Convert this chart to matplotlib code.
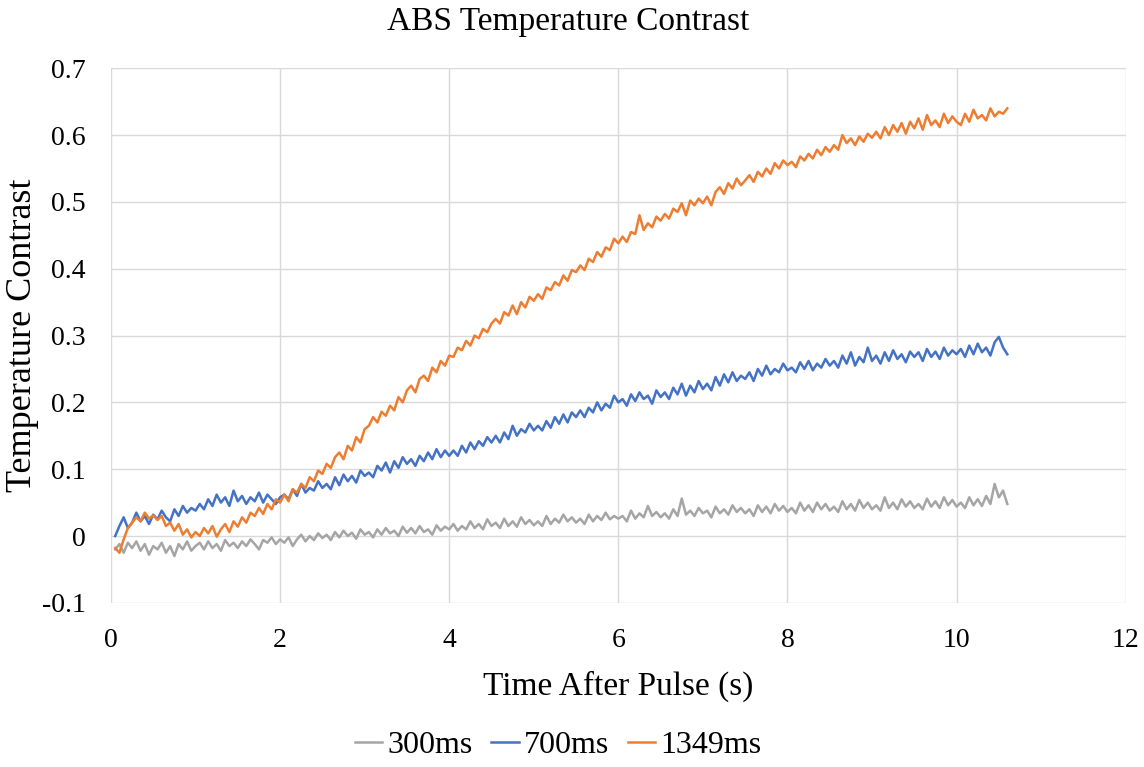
import numpy as np
import matplotlib
matplotlib.use("Agg")
import matplotlib.pyplot as plt

plt.rcParams['font.family'] = ['Liberation Serif', 'DejaVu Serif']

# sample times (s): 0.05 s steps from 0.05 to 10.6
t_start, t_step, n_pts = 0.05, 0.05, 212

series_labels = ['300ms', '700ms', '1349ms']
series_colors = ['#a5a5a5', '#4472c4', '#ed7d31']

c_300 = [
    -0.020, -0.012, -0.025, -0.010, -0.018, -0.008, -0.022, -0.012, -0.028, -0.015,
    -0.020, -0.010, -0.025, -0.015, -0.030, -0.012, -0.020, -0.008, -0.022, -0.015,
    -0.010, -0.020, -0.008, -0.018, -0.012, -0.022, -0.006, -0.015, -0.010, -0.018,
    -0.008, -0.015, -0.005, -0.012, -0.020, -0.006, -0.010, -0.002, -0.012, -0.005,
    -0.010, -0.002, -0.015, -0.005, 0.002, -0.008, 0.000, -0.006, 0.004, -0.003,
    0.002, -0.006, 0.006, -0.002, 0.008, 0.000, 0.005, -0.004, 0.010, 0.002,
    0.006, -0.002, 0.010, 0.002, 0.012, 0.004, 0.008, 0.000, 0.014, 0.005,
    0.012, 0.004, 0.015, 0.006, 0.010, 0.002, 0.016, 0.008, 0.014, 0.010,
    0.018, 0.008, 0.015, 0.010, 0.022, 0.012, 0.018, 0.010, 0.025, 0.015,
    0.020, 0.012, 0.026, 0.015, 0.022, 0.014, 0.028, 0.018, 0.024, 0.016,
    0.022, 0.015, 0.030, 0.018, 0.026, 0.020, 0.032, 0.022, 0.028, 0.020,
    0.026, 0.018, 0.032, 0.022, 0.030, 0.024, 0.035, 0.025, 0.030, 0.026,
    0.030, 0.022, 0.038, 0.026, 0.034, 0.028, 0.045, 0.030, 0.036, 0.028,
    0.034, 0.026, 0.040, 0.030, 0.056, 0.032, 0.038, 0.030, 0.042, 0.034,
    0.038, 0.028, 0.044, 0.034, 0.040, 0.032, 0.046, 0.036, 0.042, 0.034,
    0.040, 0.030, 0.046, 0.036, 0.044, 0.034, 0.048, 0.038, 0.045, 0.036,
    0.042, 0.034, 0.050, 0.038, 0.046, 0.036, 0.050, 0.040, 0.048, 0.038,
    0.044, 0.036, 0.052, 0.040, 0.048, 0.038, 0.054, 0.042, 0.050, 0.040,
    0.046, 0.038, 0.058, 0.042, 0.050, 0.040, 0.055, 0.044, 0.052, 0.042,
    0.048, 0.040, 0.056, 0.044, 0.052, 0.042, 0.058, 0.046, 0.054, 0.044,
    0.050, 0.042, 0.058, 0.046, 0.055, 0.045, 0.060, 0.048, 0.078, 0.058,
    0.068, 0.048,
]

c_700 = [
    0.000, 0.015, 0.028, 0.012, 0.020, 0.035, 0.022, 0.030, 0.018, 0.032,
    0.025, 0.038, 0.028, 0.022, 0.040, 0.030, 0.045, 0.035, 0.042, 0.038,
    0.048, 0.040, 0.055, 0.045, 0.062, 0.050, 0.058, 0.045, 0.068, 0.052,
    0.060, 0.048, 0.058, 0.052, 0.065, 0.050, 0.062, 0.055, 0.048, 0.058,
    0.062, 0.055, 0.070, 0.060, 0.078, 0.065, 0.072, 0.068, 0.082, 0.072,
    0.078, 0.070, 0.088, 0.076, 0.092, 0.082, 0.090, 0.080, 0.098, 0.090,
    0.095, 0.088, 0.105, 0.098, 0.110, 0.095, 0.112, 0.102, 0.118, 0.108,
    0.115, 0.105, 0.120, 0.112, 0.125, 0.115, 0.130, 0.118, 0.128, 0.120,
    0.128, 0.120, 0.135, 0.125, 0.140, 0.130, 0.142, 0.135, 0.148, 0.140,
    0.150, 0.140, 0.155, 0.145, 0.165, 0.150, 0.160, 0.155, 0.168, 0.158,
    0.165, 0.158, 0.172, 0.162, 0.178, 0.168, 0.182, 0.170, 0.185, 0.178,
    0.188, 0.178, 0.192, 0.185, 0.200, 0.188, 0.198, 0.192, 0.210, 0.200,
    0.205, 0.195, 0.212, 0.202, 0.215, 0.205, 0.210, 0.198, 0.218, 0.208,
    0.215, 0.205, 0.222, 0.212, 0.228, 0.210, 0.225, 0.215, 0.232, 0.220,
    0.228, 0.218, 0.238, 0.225, 0.242, 0.230, 0.245, 0.232, 0.240, 0.235,
    0.245, 0.232, 0.250, 0.240, 0.255, 0.242, 0.250, 0.245, 0.258, 0.248,
    0.252, 0.245, 0.260, 0.250, 0.262, 0.248, 0.258, 0.252, 0.265, 0.255,
    0.262, 0.252, 0.270, 0.258, 0.275, 0.255, 0.268, 0.260, 0.282, 0.262,
    0.270, 0.258, 0.275, 0.262, 0.278, 0.265, 0.272, 0.260, 0.276, 0.268,
    0.275, 0.262, 0.280, 0.268, 0.276, 0.265, 0.282, 0.270, 0.278, 0.272,
    0.280, 0.268, 0.285, 0.272, 0.288, 0.275, 0.282, 0.270, 0.290, 0.298,
    0.282, 0.272,
]

c_1349 = [
    -0.018, -0.025, -0.005, 0.012, 0.020, 0.028, 0.022, 0.035, 0.026, 0.031,
    0.024, 0.030, 0.015, 0.020, 0.008, 0.018, 0.002, 0.010, -0.002, 0.006,
    0.000, 0.012, 0.004, 0.015, -0.001, 0.010, 0.018, 0.006, 0.022, 0.014,
    0.028, 0.020, 0.035, 0.030, 0.042, 0.033, 0.048, 0.040, 0.055, 0.050,
    0.062, 0.052, 0.070, 0.065, 0.078, 0.072, 0.088, 0.082, 0.098, 0.093,
    0.108, 0.102, 0.118, 0.125, 0.115, 0.135, 0.128, 0.148, 0.140, 0.160,
    0.165, 0.178, 0.170, 0.186, 0.180, 0.195, 0.188, 0.208, 0.200, 0.218,
    0.225, 0.215, 0.235, 0.240, 0.232, 0.252, 0.245, 0.262, 0.255, 0.270,
    0.268, 0.282, 0.278, 0.292, 0.285, 0.300, 0.296, 0.310, 0.305, 0.318,
    0.325, 0.318, 0.335, 0.330, 0.345, 0.332, 0.350, 0.342, 0.358, 0.352,
    0.362, 0.355, 0.372, 0.368, 0.380, 0.375, 0.390, 0.382, 0.398, 0.395,
    0.405, 0.398, 0.415, 0.410, 0.425, 0.418, 0.432, 0.428, 0.445, 0.438,
    0.448, 0.440, 0.455, 0.452, 0.480, 0.458, 0.468, 0.462, 0.478, 0.472,
    0.482, 0.475, 0.490, 0.485, 0.498, 0.480, 0.502, 0.495, 0.505, 0.498,
    0.508, 0.495, 0.515, 0.522, 0.512, 0.528, 0.520, 0.535, 0.525, 0.532,
    0.540, 0.530, 0.545, 0.538, 0.550, 0.542, 0.558, 0.550, 0.562, 0.555,
    0.560, 0.552, 0.568, 0.562, 0.572, 0.565, 0.578, 0.570, 0.582, 0.575,
    0.585, 0.578, 0.600, 0.588, 0.595, 0.585, 0.598, 0.590, 0.602, 0.596,
    0.605, 0.595, 0.612, 0.600, 0.615, 0.605, 0.618, 0.602, 0.620, 0.610,
    0.625, 0.608, 0.630, 0.615, 0.622, 0.612, 0.632, 0.618, 0.628, 0.620,
    0.615, 0.632, 0.620, 0.638, 0.625, 0.630, 0.622, 0.640, 0.628, 0.635,
    0.632, 0.640,
]

t = t_start + t_step * np.arange(n_pts)

fig = plt.figure(figsize=(11.44, 7.67), dpi=100)
ax = fig.add_axes([0.097, 0.214, 0.887, 0.697])

for vals, lab, col in zip([c_300, c_700, c_1349], series_labels, series_colors):
    ax.plot(t, vals, color=col, lw=1.8, label=lab)

ax.set_xlim(0, 12)
ax.set_ylim(-0.1, 0.7)
ax.set_xticks(np.arange(0, 13, 2))
ax.set_yticks(np.round(np.arange(-0.1, 0.71, 0.1), 1))
ax.set_yticklabels(['-0.1', '0', '0.1', '0.2', '0.3', '0.4', '0.5', '0.6', '0.7'])
ax.grid(True, color='#d9d9d9', lw=1)
ax.set_axisbelow(True)
for s in ax.spines.values():
    s.set_visible(False)
ax.tick_params(length=0, labelsize=20)
ax.tick_params(axis='x', pad=18)
ax.tick_params(axis='y', pad=18)

ax.set_xlabel('Time After Pulse (s)', fontsize=24, va='center')
ax.xaxis.set_label_coords(0.5, -0.157)
ax.set_ylabel('Temperature Contrast', fontsize=26, va='center')
ax.yaxis.set_label_coords(-0.087, 0.5)
fig.text(0.497, 1 - 22 / 767, 'ABS Temperature Contrast', fontsize=24,
         ha='center', va='center')

fig.legend(loc='center', bbox_to_anchor=(558 / 1144, 1 - 745 / 767), ncol=3,
           frameon=False, fontsize=23, handlelength=0.85, handletextpad=0.15,
           columnspacing=0.6)

fig.savefig('out.png', dpi=100)
